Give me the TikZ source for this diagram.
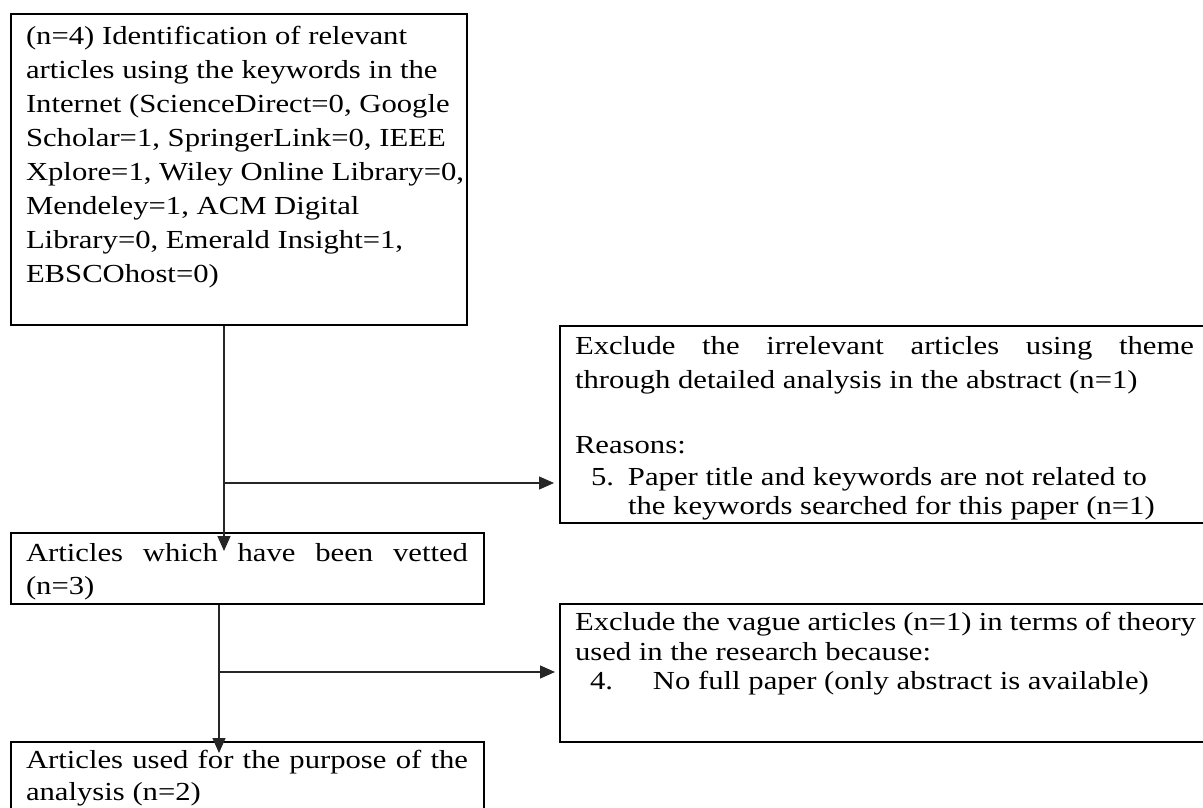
\documentclass[tikz,border=0pt]{standalone}
\usepackage{fontspec}
\setmainfont{Liberation Serif}[FakeStretch=1.18]
\usetikzlibrary{arrows.meta}
% one text line, left padding 15pt
\newcommand{\txl}[1]{\hbox{\kern15pt #1}}
% justified text line of given width
\newcommand{\jxl}[2]{\hbox{\kern15pt\hbox to #1{\spaceskip=.25em plus 1fil minus .2em #2}}}
% text line with own offset
\newcommand{\offl}[2]{\hbox{\kern#1 #2}}
% list line: label at #1, text at #3
\newcommand{\lxl}[4]{\hbox{\kern#1\hbox to \dimexpr#3-#1\relax{#2\hss}#4}}
\newcommand{\setbl}[1]{\baselineskip=#1\relax}
% panel: width, height, first baseline offset, lines
\newcommand{\mypanel}[4]{\vbox to #2{\baselineskip=34pt\lineskiplimit=-100pt\lineskip=0pt\kern\dimexpr#3-34pt\relax\hbox to #1{}#4\vss}}
\tikzset{
  panelbox/.style={draw=black, line width=2pt, inner sep=0pt, anchor=north west,
    font=\fontsize{26pt}{34pt}\selectfont},
  conn/.style={draw=black!85, line width=1.3pt, -{Triangle[length=15pt,width=13pt]}},
}
\begin{document}
\begin{tikzpicture}[x=1pt,y=-1pt]
\useasboundingbox (0,0) rectangle (1203,807);
\clip (0,0) rectangle (1203,807);
\fill[white] (0,0) rectangle (1203,807);

\node[panelbox] (b1) at (10,13) {\mypanel{456pt}{311pt}{30pt}{\setbl{34.1pt}
\txl{(n=4) Identification of relevant}
\txl{articles using the keywords in the}
\txl{Internet (ScienceDirect=0, Google}
\txl{Scholar=1, SpringerLink=0, IEEE}
\txl{Xplore=1, Wiley Online Library=0,}
\txl{Mendeley=1, ACM Digital}
\txl{Library=0, Emerald Insight=1,}
\txl{EBSCOhost=0)}}};

\node[panelbox] (b2) at (10,532) {\mypanel{473pt}{71pt}{29pt}{\setbl{33pt}
\jxl{442pt}{Articles which have been vetted}
\txl{(n=3)}}};

\node[panelbox] (b3) at (10,741) {\mypanel{473pt}{80pt}{28pt}{\setbl{32pt}
\jxl{442pt}{Articles used for the purpose of the}
\txl{analysis (n=2)}}};

\node[panelbox] (b4) at (559,325) {\mypanel{660pt}{197pt}{28pt}{\setbl{34pt}
\jxl{619pt}{Exclude the irrelevant articles using theme}
\txl{through detailed analysis in the abstract (n=1)}
\setbl{65pt}
\txl{Reasons:}
\setbl{32pt}
\lxl{31pt}{5.}{68pt}{Paper title and keywords are not related to}
\setbl{29pt}
\offl{68pt}{the keywords searched for this paper (n=1)}}};

\node[panelbox] (b5) at (559,603) {\mypanel{660pt}{138pt}{30pt}{\setbl{30pt}
\jxl{621pt}{Exclude the vague articles (n=1) in terms of theory}
\txl{used in the research because:}
\setbl{29pt}
\lxl{30pt}{4.}{93pt}{No full paper (only abstract is available)}}};

\coordinate (j1) at (224,483);
\coordinate (j2) at (219,672);
\coordinate (e1) at ([yshift=-19pt]b2.north);
\coordinate (e2) at ([yshift=-12pt]b3.north);

\draw[conn] (b1.south -| j1) -- (e1 -| j1);
\draw[conn, shorten >=5pt] (j1) -- (b4.west |- j1);
\draw[conn] (b2.south -| j2) -- (e2 -| j2);
\draw[conn, shorten >=4pt] (j2) -- (b5.west |- j2);
\end{tikzpicture}
\end{document}
